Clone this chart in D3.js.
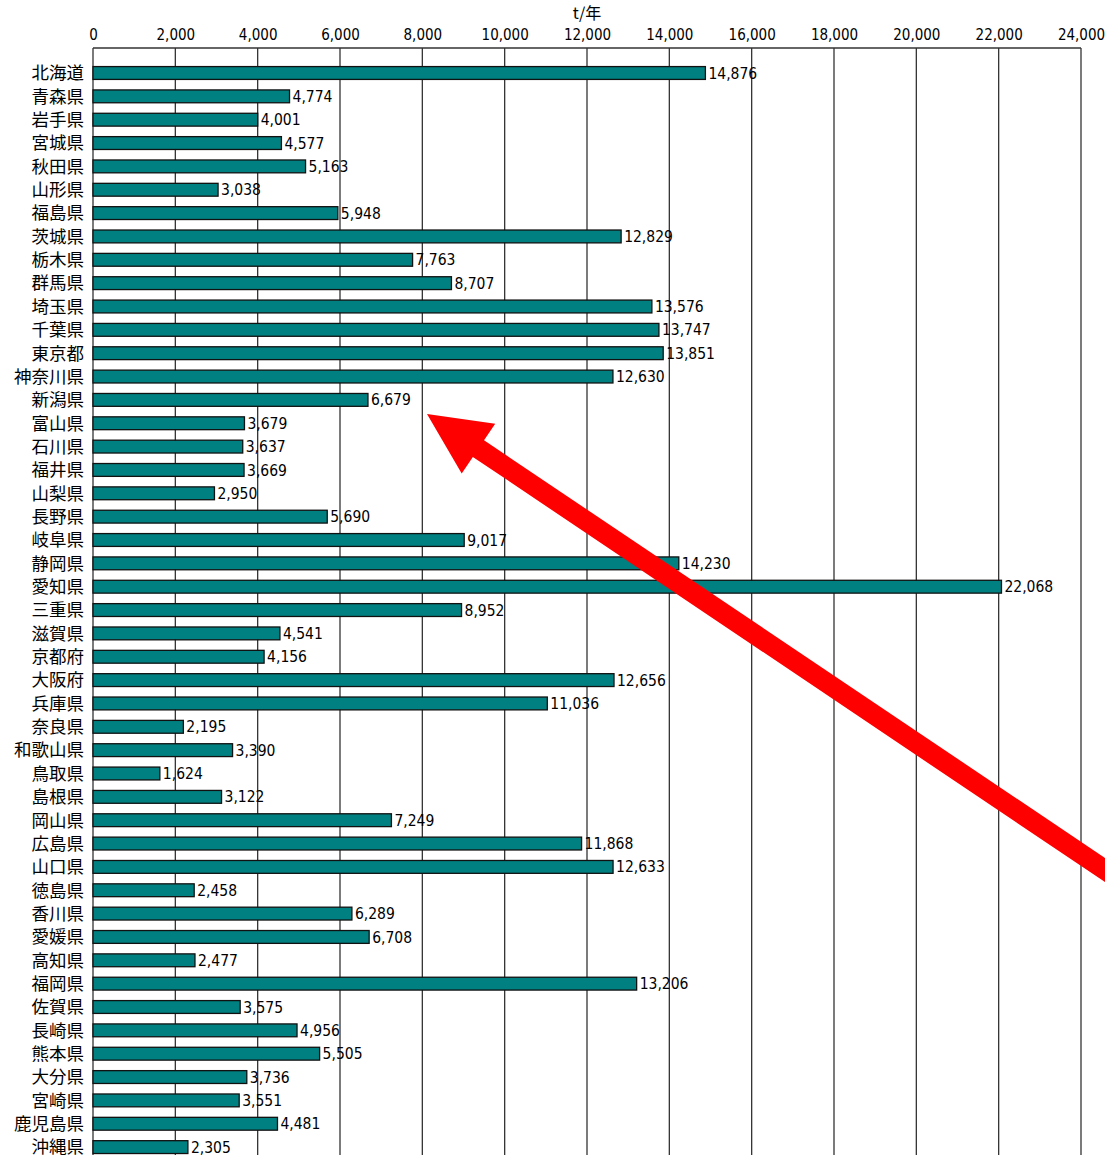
<!DOCTYPE html>
<html><head><meta charset="utf-8">
<script src="https://cdn.jsdelivr.net/npm/d3@7"></script>
<style>body{margin:0;background:#fff;}svg{display:block;}</style>
</head><body>
<script>
const prefectures = ["北海道","青森県","岩手県","宮城県","秋田県","山形県","福島県","茨城県","栃木県","群馬県","埼玉県","千葉県","東京都","神奈川県","新潟県","富山県","石川県","福井県","山梨県","長野県","岐阜県","静岡県","愛知県","三重県","滋賀県","京都府","大阪府","兵庫県","奈良県","和歌山県","鳥取県","島根県","岡山県","広島県","山口県","徳島県","香川県","愛媛県","高知県","福岡県","佐賀県","長崎県","熊本県","大分県","宮崎県","鹿児島県","沖縄県"];
const values = [14876,4774,4001,4577,5163,3038,5948,12829,7763,8707,13576,13747,13851,12630,6679,3679,3637,3669,2950,5690,9017,14230,22068,8952,4541,4156,12656,11036,2195,3390,1624,3122,7249,11868,12633,2458,6289,6708,2477,13206,3575,4956,5505,3736,3551,4481,2305];
const tickValues = [0,2000,4000,6000,8000,10000,12000,14000,16000,18000,20000,22000,24000];
const unitLabel = "t/年";

(function(){
const W = 1105, H = 1155;
const svg = d3.select("body").append("svg").attr("width", W).attr("height", H);
const pL = 93, pR = 1081, pT = 48, pB = 1175;
const x = d3.scaleLinear().domain([0, 24000]).range([pL, pR]);
const step = 23.35;
const y = d3.scaleBand().domain(prefectures).range([73 - step/2, 73 - step/2 + step*prefectures.length]).paddingInner(0.45).paddingOuter(0.225);

const numFont = "'Liberation Sans Narrow','DejaVu Sans Condensed',sans-serif";
const jpFont = "'Noto Sans CJK JP',sans-serif";

svg.append("g").selectAll("line").data(tickValues).join("line")
  .attr("x1", d => x(d)).attr("x2", d => x(d)).attr("y1", pT).attr("y2", pB)
  .attr("stroke", "#333").attr("stroke-width", 1.3);
svg.append("line").attr("x1", pL).attr("x2", pR).attr("y1", pT).attr("y2", pT)
  .attr("stroke", "#333").attr("stroke-width", 1.3);

const ax = d3.axisTop(x).tickValues(tickValues).tickSize(0).tickPadding(0).tickFormat(d3.format(","));
const axg = svg.append("g").attr("transform", `translate(0,${pT - 8})`).call(ax);
axg.select(".domain").remove();
axg.selectAll("text").attr("font-family", numFont).attr("font-size", 15).attr("fill", "#000");

svg.append("text").attr("x", x(12000)).attr("y", 19).attr("text-anchor", "middle")
  .attr("font-family", jpFont).attr("font-size", 16).text(unitLabel);

svg.append("g").selectAll("rect").data(prefectures).join("rect")
  .attr("x", x(0)).attr("y", (d) => y(d))
  .attr("width", (d, i) => x(values[i]) - x(0)).attr("height", y.bandwidth())
  .attr("fill", "#008080").attr("stroke", "#111").attr("stroke-width", 1.3);

svg.append("g").selectAll("text").data(prefectures).join("text")
  .attr("x", (d, i) => x(values[i]) + 3).attr("y", d => y(d) + y.bandwidth()/2)
  .attr("dy", "0.36em").attr("font-family", numFont).attr("font-size", 15.5)
  .text((d, i) => d3.format(",")(values[i]));

svg.append("g").selectAll("text").data(prefectures).join("text")
  .attr("x", 84).attr("y", d => y(d) + y.bandwidth()/2).attr("dy", "0.36em")
  .attr("text-anchor", "end").attr("font-family", jpFont).attr("font-size", 17.5)
  .text(d => d);

const tip = [427, 414];
const ang = Math.atan2(456, 678);
const len = 900, hw = 10, headLen = 62, headW = 30;
const ux = Math.cos(ang), uy = Math.sin(ang), px = -uy, py = ux;
const bx = tip[0] + ux*headLen, by = tip[1] + uy*headLen;
const pts = [
  tip,
  [bx + px*headW, by + py*headW],
  [bx + px*hw, by + py*hw],
  [tip[0] + ux*len + px*hw, tip[1] + uy*len + py*hw],
  [tip[0] + ux*len - px*hw, tip[1] + uy*len - py*hw],
  [bx - px*hw, by - py*hw],
  [bx - px*headW, by - py*headW]
];
svg.append("path").attr("d", d3.line()(pts) + "Z").attr("fill", "#ff0000");
})();
</script>
</body></html>
